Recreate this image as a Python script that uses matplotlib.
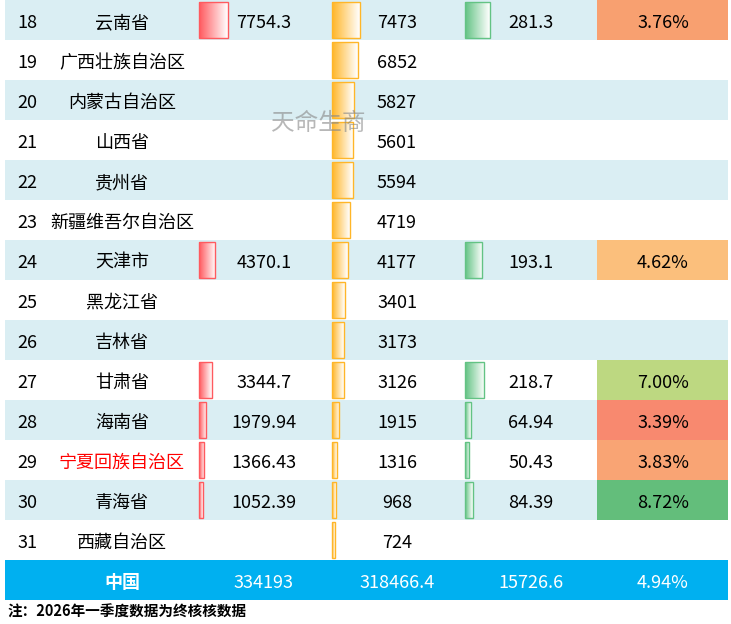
import numpy as np
import matplotlib.pyplot as plt
from matplotlib.colors import LinearSegmentedColormap

plt.rcParams['font.family'] = ['Noto Sans CJK SC', 'DejaVu Sans']

ranks = [18, 19, 20, 21, 22, 23, 24, 25, 26, 27, 28, 29, 30, 31]
regions = ["云南省", "广西壮族自治区", "内蒙古自治区", "山西省", "贵州省", "新疆维吾尔自治区",
           "天津市", "黑龙江省", "吉林省", "甘肃省", "海南省", "宁夏回族自治区", "青海省", "西藏自治区"]
col_a = [7754.3, None, None, None, None, None, 4370.1, None, None, 3344.7, 1979.94, 1366.43, 1052.39, None]
col_b = [7473, 6852, 5827, 5601, 5594, 4719, 4177, 3401, 3173, 3126, 1915, 1316, 968, 724]
col_c = [281.3, None, None, None, None, None, 193.1, None, None, 218.7, 64.94, 50.43, 84.39, None]
growth = ["3.76%", None, None, None, None, None, "4.62%", None, None, "7.00%", "3.39%", "3.83%", "8.72%", None]
growth_colors = ["#F8A070", None, None, None, None, None, "#FBBF7C", None, None, "#BDD881",
                 "#F8896F", "#F9A474", "#63BE7B", None]
total = ["中国", "334193", "318466.4", "15726.6", "4.94%"]
note = "注：2026年一季度数据为终核核数据"

fig = plt.figure(figsize=(7.31, 6.24), dpi=100)
ax = fig.add_axes([0, 0, 1, 1])
ax.set_xlim(0, 731)
ax.set_ylim(624, 0)
ax.axis('off')

ROW_H = 40
X0, X1 = 5, 728
FS = 13


def fmt(v):
    return f"{v:g}" if isinstance(v, float) else str(v)


def gbar(x, y, w, h, color):
    if w <= 0:
        return
    cmap = LinearSegmentedColormap.from_list("g", [color, "#FFFFFF"])
    grad = np.linspace(0, 1, 50).reshape(1, -1)
    ax.imshow(grad, cmap=cmap, extent=(x, x + w, y + h, y), aspect='auto', zorder=2)
    ax.add_patch(plt.Rectangle((x, y), w, h, fill=False, edgecolor=color, lw=1, zorder=3))


cols = [(199, 29 / 7754.3, "#FF5A5F", col_a, 264),
        (332, 28 / 7473, "#FFB628", col_b, 397),
        (465, 25 / 281.3, "#63C384", col_c, 531)]

for i, (rk, name) in enumerate(zip(ranks, regions)):
    top = i * ROW_H
    yc = top + ROW_H / 2 + 1
    bg = "#DAEEF3" if i % 2 == 0 else "#FFFFFF"
    ax.add_patch(plt.Rectangle((X0, top), X1 - X0, ROW_H, color=bg, lw=0, zorder=1))
    ax.text(27, yc, str(rk), ha='center', va='center_baseline', fontsize=FS, zorder=5)
    ax.text(122, yc, name, ha='center', va='center_baseline', fontsize=FS,
            color="#FF0000" if name == "宁夏回族自治区" else "black", zorder=5)
    for bx, scale, c, vals, tx in cols:
        v = vals[i]
        if v is None:
            continue
        gbar(bx, top + 2, max(v * scale, 1.5), ROW_H - 4, c)
        ax.text(tx, yc, fmt(v), ha='center', va='center_baseline', fontsize=FS, zorder=5)
    if growth[i]:
        ax.add_patch(plt.Rectangle((597, top), X1 - 597, ROW_H, color=growth_colors[i], lw=0, zorder=1))
        ax.text(663, yc, growth[i], ha='center', va='center_baseline', fontsize=FS, zorder=5)

top = len(ranks) * ROW_H
ax.add_patch(plt.Rectangle((X0, top), X1 - X0, ROW_H, color="#00B0F0", lw=0, zorder=1))
for x, s in zip([122, 264, 397, 531, 663], total):
    ax.text(x, top + ROW_H / 2 + 1, s, ha='center', va='center_baseline', fontsize=FS, color="white",
            fontweight='bold' if s == "中国" else 'normal', zorder=5)

ax.text(8, 612, note, ha='left', va='center', fontsize=10.5, fontweight='bold')

# watermark
ax.text(318, 123, "天命生商", ha='center', va='center', fontsize=17, color="#888888", alpha=0.6, zorder=6)

fig.savefig("out.png", dpi=100)
